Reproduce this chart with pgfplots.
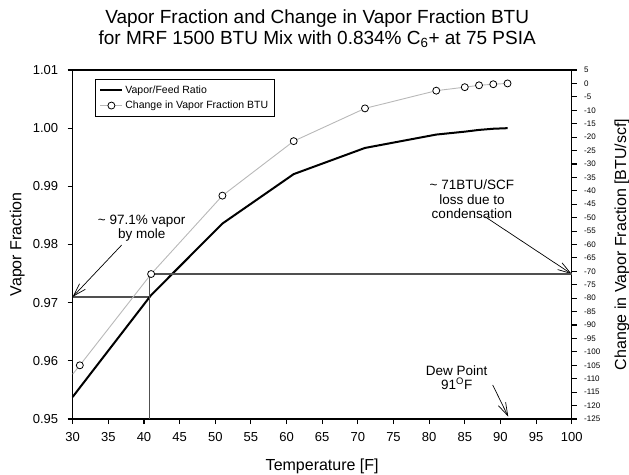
\documentclass[border=0pt]{standalone}
\usepackage{fontspec}
\setmainfont{Liberation Sans}
\usepackage{pgfplots}
\pgfplotsset{compat=1.18}
\usetikzlibrary{arrows.meta}
\definecolor{refgray}{HTML}{505050}
\definecolor{lightline}{HTML}{B8B8B8}
\tikzset{annarrow/.style={-{Straight Barb[length=13pt,width=8pt]}, line width=0.7pt, black}}
\begin{document}
\begin{tikzpicture}
\begin{axis}[name=ax, width=499pt, height=349pt, scale only axis,
  xmin=30, xmax=100, ymin=0.95, ymax=1.01, clip=false,
  xtick={30,35,...,100}, ytick={0.95,0.96,0.97,0.98,0.99,1.00,1.01},
  scaled y ticks=false,
  tick pos=left, tick align=outside, major tick length=5pt,
  axis line style={line width=1.1pt, black},
  major tick style={line width=1.1pt, black},
  /pgf/number format/assume math mode=true,
  ticklabel style={font=\fontsize{13}{15}\selectfont},
  xticklabel style={yshift=-5pt},
  yticklabel style={xshift=-6pt, /pgf/number format/.cd, fixed, fixed zerofill, precision=2},
]
\addplot[refgray, line width=1.3pt] coordinates {(30,0.971) (40.8,0.971)};
\addplot[black, line width=2pt] coordinates {
 (30,0.9538) (31,0.9554) (41,0.9713) (51,0.9836) (61,0.9921) (71,0.9966)
 (81,0.9989) (85,0.9994) (87,0.9997) (89,0.9999) (91,1.0000)};
\node[align=center, font=\fontsize{13.5}{14.3}\selectfont] at (axis cs:39.68,0.98285) {\textasciitilde{} 97.1\% vapor\\by mole};
\draw[annarrow] (axis cs:36.87,0.97991) -- (axis cs:30,0.971);
\node[align=center, font=\fontsize{13.5}{14.3}\selectfont] at (axis cs:86.0,0.98777) {\textasciitilde{} 71BTU/SCF\\loss due to\\condensation};
\draw[annarrow] (axis cs:87.84,0.98478) -- (axis cs:100,0.97492);
\node[align=center, font=\fontsize{13.5}{14.3}\selectfont] at (axis cs:83.87,0.95713) {Dew Point\\91\textsuperscript{O}F};
\draw[annarrow] (axis cs:88.92,0.95585) -- (axis cs:91.1,0.9504);
\end{axis}
\begin{axis}[name=ax2, width=499pt, height=349pt, scale only axis,
  xmin=30, xmax=100, ymin=-125, ymax=5, clip=false,
  axis y line*=right, axis x line=none,
  ytick={-125,-120,...,5},
  tick align=outside, major tick length=5pt,
  axis line style={line width=1.1pt, black},
  major tick style={line width=1.1pt, black},
  /pgf/number format/assume math mode=true,
  yticklabel style={xshift=4pt, font=\fontsize{8}{9}\selectfont},
  legend style={at={(0,1)}, anchor=north west, xshift=22.3pt, yshift=-9pt,
    draw=black, line width=0.8pt, font=\fontsize{10.5}{12}\selectfont,
    inner xsep=4pt, inner ysep=4.5pt, row sep=2pt},
  legend cell align=left,
  legend image code/.code={\draw[mark repeat=2,mark phase=2,#1] plot coordinates {(0pt,0pt) (11pt,0pt) (22pt,0pt)};},
]
\addlegendimage{black, line width=2pt}
\addlegendentry{Vapor/Feed Ratio}
\addlegendimage{lightline, line width=0.9pt, mark=*, mark size=3.5pt, mark options={fill=white, draw=black, line width=0.8pt}}
\addlegendentry{Change in Vapor Fraction BTU}
\addplot[refgray, line width=1.3pt, forget plot] coordinates {(40.8,-125) (40.8,-71) (100,-71)};
\addplot[lightline, line width=0.9pt, forget plot] coordinates {
 (30,-108.3) (31,-105) (41,-71) (51,-41.8) (61,-21.5) (71,-9.3)
 (81,-2.7) (85,-1.4) (87,-0.7) (89,-0.3) (91,0)};
\addplot[only marks, mark=*, mark size=3.5pt, mark options={fill=white, draw=black, line width=0.8pt}, forget plot] coordinates {
 (31,-105) (41,-71) (51,-41.8) (61,-21.5) (71,-9.3)
 (81,-2.7) (85,-1.4) (87,-0.7) (89,-0.3) (91,0)};
\end{axis}
\node[anchor=base, font=\fontsize{19}{21}\selectfont] at ([xshift=-5pt,yshift=46.7pt]ax.north) {Vapor Fraction and Change in Vapor Fraction BTU};
\node[anchor=base, font=\fontsize{19}{21}\selectfont] at ([xshift=-5pt,yshift=25.7pt]ax.north) {for MRF 1500 BTU Mix with 0.834\% C\textsubscript{6}+ at 75 PSIA};
\node[anchor=base, font=\fontsize{16}{18}\selectfont] at ([yshift=-51.8pt]ax.south) {Temperature [F]};
\node[rotate=90, anchor=base, font=\fontsize{16}{18}\selectfont] at ([xshift=-51.2pt]ax.west) {Vapor Fraction};
\node[rotate=90, anchor=base, font=\fontsize{16}{18}\selectfont] at ([xshift=54.3pt]ax.east) {Change in Vapor Fraction [BTU/scf]};
\pgfresetboundingbox
\path ([xshift=-72.7pt,yshift=-55pt]ax.south west) rectangle ([xshift=57.3pt,yshift=70pt]ax.north east);
\end{tikzpicture}
\end{document}
